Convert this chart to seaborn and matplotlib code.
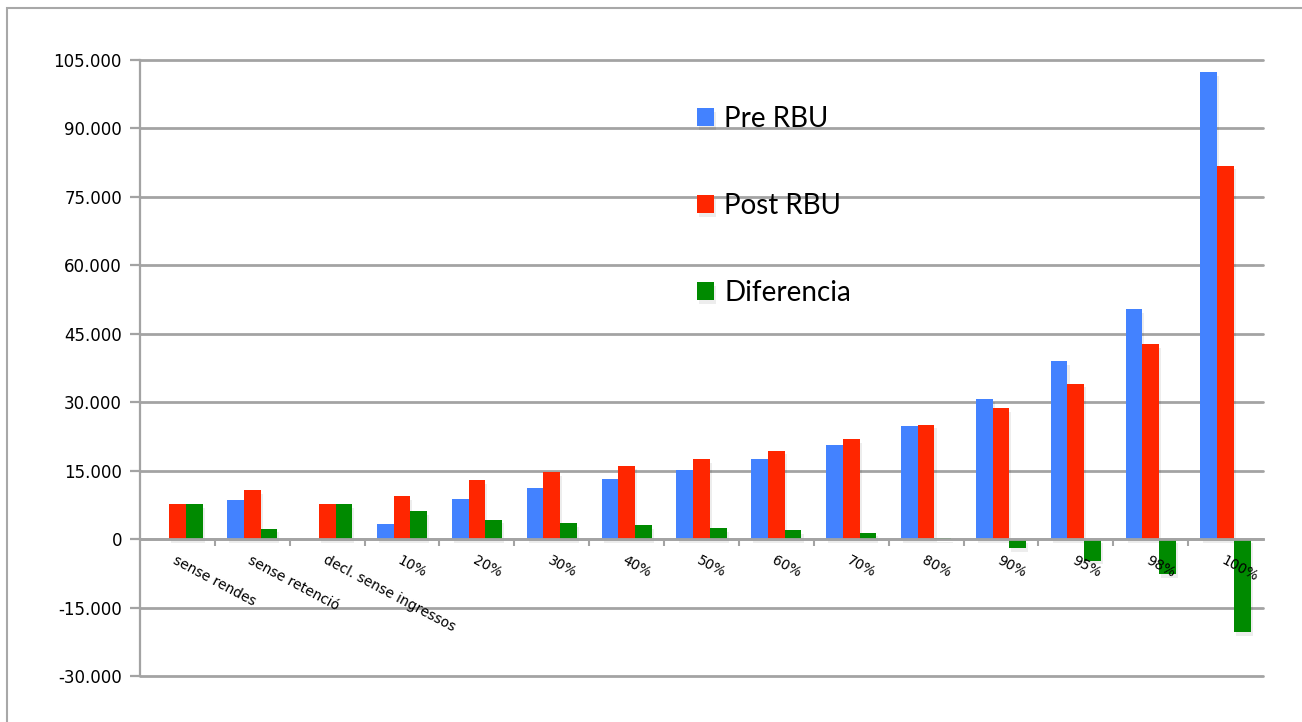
import matplotlib
matplotlib.use("Agg")
import matplotlib.pyplot as plt
import matplotlib.patheffects as pe
from matplotlib.patches import Rectangle
from matplotlib.ticker import FuncFormatter, FixedLocator, MultipleLocator
import numpy as np
import pandas as pd
import seaborn as sns

# Income brackets and the three series (euros)
categories = ["sense rendes", "sense retenció", "decl. sense ingressos", "10%", "20%",
              "30%", "40%", "50%", "60%", "70%", "80%", "90%", "95%", "98%", "100%"]
pre_rbu = [0, 8500, 0, 3300, 8800, 11300, 13200, 15200, 17600, 20600, 24800, 30800, 39000, 50400, 102300]
post_rbu = [7600, 10700, 7600, 9400, 12900, 14700, 16100, 17500, 19400, 21900, 25100, 28700, 34000, 42700, 81800]
diferencia = [7600, 2300, 7600, 6100, 4200, 3500, 3000, 2400, 1900, 1400, 200, -2000, -4800, -7700, -20400]
series_names = ["Pre RBU", "Post RBU", "Diferencia"]
colors = ["#4382ff", "#ff2600", "#008a00"]

df = pd.DataFrame({
    "categoria": categories * 3,
    "serie": [series_names[0]] * len(categories) + [series_names[1]] * len(categories)
             + [series_names[2]] * len(categories),
    "valor": pre_rbu + post_rbu + diferencia,
})

sns.set_theme(style="white")
plt.rcParams["font.family"] = ["DejaVu Sans"]
plt.rcParams["text.color"] = "black"

fig = plt.figure(figsize=(13.02, 7.22), dpi=100)
ax = fig.add_axes([140 / 1302, 46 / 722, 1123 / 1302, 616 / 722])

sns.barplot(data=df, x="categoria", y="valor", hue="serie", palette=colors,
            order=categories, hue_order=series_names, width=0.67, saturation=1,
            errorbar=None, ax=ax, zorder=3, linewidth=0)

for bar in ax.patches:
    bar.set_path_effects([pe.SimplePatchShadow(offset=(1.5, -2.5), shadow_rgbFace="#000000", alpha=0.07),
                          pe.Normal()])

grid_c = "#a3a3a3"
ax.set_ylim(-30000, 105000)
ax.set_xlim(-0.5, len(categories) - 0.5)
ax.yaxis.set_major_locator(MultipleLocator(15000))
ax.yaxis.set_major_formatter(FuncFormatter(lambda v, p: f"{int(round(v)):,}".replace(",", ".")))
ax.yaxis.grid(True, color=grid_c, linewidth=2)
ax.xaxis.grid(False)
for gl in ax.get_ygridlines():
    gl.set_clip_on(False)
# gridlines behind the bars, category labels in front of them
ax.yaxis.set_zorder(1)
ax.xaxis.set_zorder(5)

for s in ["top", "right"]:
    ax.spines[s].set_visible(False)
ax.spines["left"].set_color(grid_c)
ax.spines["left"].set_linewidth(1.6)
ax.spines["bottom"].set_position(("data", 0))
ax.spines["bottom"].set_color(grid_c)
ax.spines["bottom"].set_linewidth(2)
ax.spines["bottom"].set_zorder(4)

ax.tick_params(axis="y", which="major", direction="out", length=7, width=1.6, color=grid_c,
               labelsize=12, pad=6, left=True, labelcolor="black")
ax.xaxis.set_minor_locator(FixedLocator(np.arange(0.5, len(categories) - 0.5, 1)))
ax.tick_params(axis="x", which="minor", direction="out", length=5, width=1.5, color=grid_c, bottom=True)
ax.tick_params(axis="x", which="major", length=0, pad=10, labelsize=10, labelcolor="black")
for lbl in ax.get_xticklabels():
    lbl.set_rotation(-28)
    lbl.set_rotation_mode("anchor")
    lbl.set_ha("left")
    lbl.set_va("top")

ax.set_xlabel("")
ax.set_ylabel("")

handles, labels = ax.get_legend_handles_labels()
leg = ax.legend(handles, labels, loc="upper left", bbox_to_anchor=(697 / 1302, 1 - 106 / 722),
                bbox_transform=fig.transFigure, frameon=False, borderpad=0, borderaxespad=0,
                handlelength=0.62, handleheight=0.62, handletextpad=0.36, labelspacing=2.2,
                prop={"family": ["Lato", "DejaVu Sans"], "size": 20})
for t in leg.get_texts():
    t.set_color("black")

# thin frame around the chart area
fig.add_artist(Rectangle((7 / 1302, -0.2), 1.2, 1.2 - 8 / 722, transform=fig.transFigure,
                         fill=False, edgecolor="#a8a8a8", linewidth=1.5, clip_on=False))

fig.savefig("out.png", dpi=100)
